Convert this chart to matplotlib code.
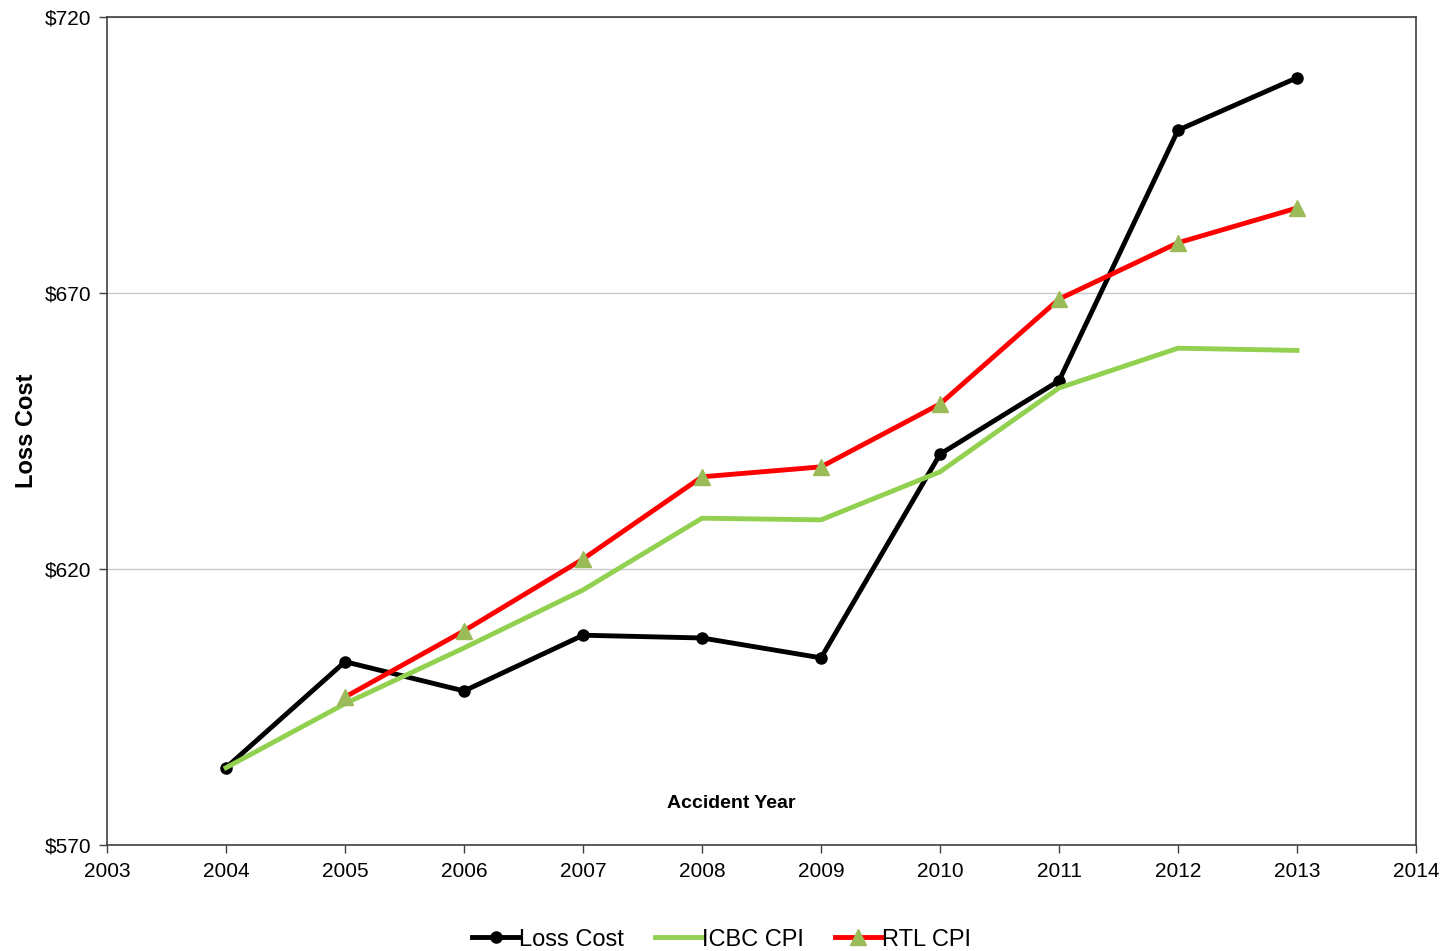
import numpy as np
import matplotlib
matplotlib.use('Agg')
import matplotlib.pyplot as plt

plt.rcParams['font.family'] = ['Liberation Sans', 'DejaVu Sans']

# données
annees = [2004, 2005, 2006, 2007, 2008, 2009, 2010, 2011, 2012, 2013]
loss_cost = [584.0, 603.2, 597.9, 608.0, 607.5, 603.9, 640.8, 654.1, 699.5, 709.0]
icbc_cpi = [584.0, 595.6, 605.7, 616.2, 629.2, 628.9, 637.6, 652.8, 660.0, 659.6]
annees_rtl = [2005, 2006, 2007, 2008, 2009, 2010, 2011, 2012, 2013]
rtl_cpi = [596.8, 608.8, 621.8, 636.7, 638.5, 649.9, 668.9, 679.1, 685.4]
yticks = [570, 620, 670, 720]
xticks = list(range(2003, 2015))

fig = plt.figure(figsize=(14.43, 9.51), dpi=100)
ax = fig.add_axes([0.0742, 0.1115, 0.9071, 0.8706])

ax.plot(annees, loss_cost, color='black', lw=3.5, marker='o', ms=8, label='Loss Cost', zorder=3)
ax.plot(annees, icbc_cpi, color='#92D050', lw=3.5, label='ICBC CPI', zorder=4)
ax.plot(annees_rtl, rtl_cpi, color='#FF0000', lw=3.5, marker='^', ms=12,
        mfc='#9BBB59', mec='#9BBB59', label='RTL CPI', zorder=5)

ax.set_xlim(2003, 2014)
ax.set_ylim(570, 720)
ax.set_xticks(xticks)
ax.set_yticks(yticks)
ax.set_yticklabels(['$%d' % v for v in yticks])
ax.tick_params(axis='both', labelsize=15, direction='out', length=6, width=1, color='#404040')
ax.tick_params(axis='x', pad=6.5)
ax.tick_params(axis='y', pad=5.5)
ax.grid(axis='y', color='#C8C8C8', lw=1)
ax.set_axisbelow(True)
for s in ax.spines.values():
    s.set_color('#404040')
    s.set_linewidth(1.2)

ax.set_ylabel('Loss Cost', fontsize=17, fontweight='bold')
ax.yaxis.set_label_coords(-0.053, 0.5)
ax.text(0.477, 0.05, 'Accident Year', transform=ax.transAxes, ha='center', va='center',
        fontsize=14, fontweight='bold')

fig.legend(loc='lower center', bbox_to_anchor=(0.5, -0.022), ncol=3, frameon=False,
           fontsize=17, handlelength=2.0, handletextpad=0.0, columnspacing=1.3)

fig.savefig('out.png', dpi=100)
